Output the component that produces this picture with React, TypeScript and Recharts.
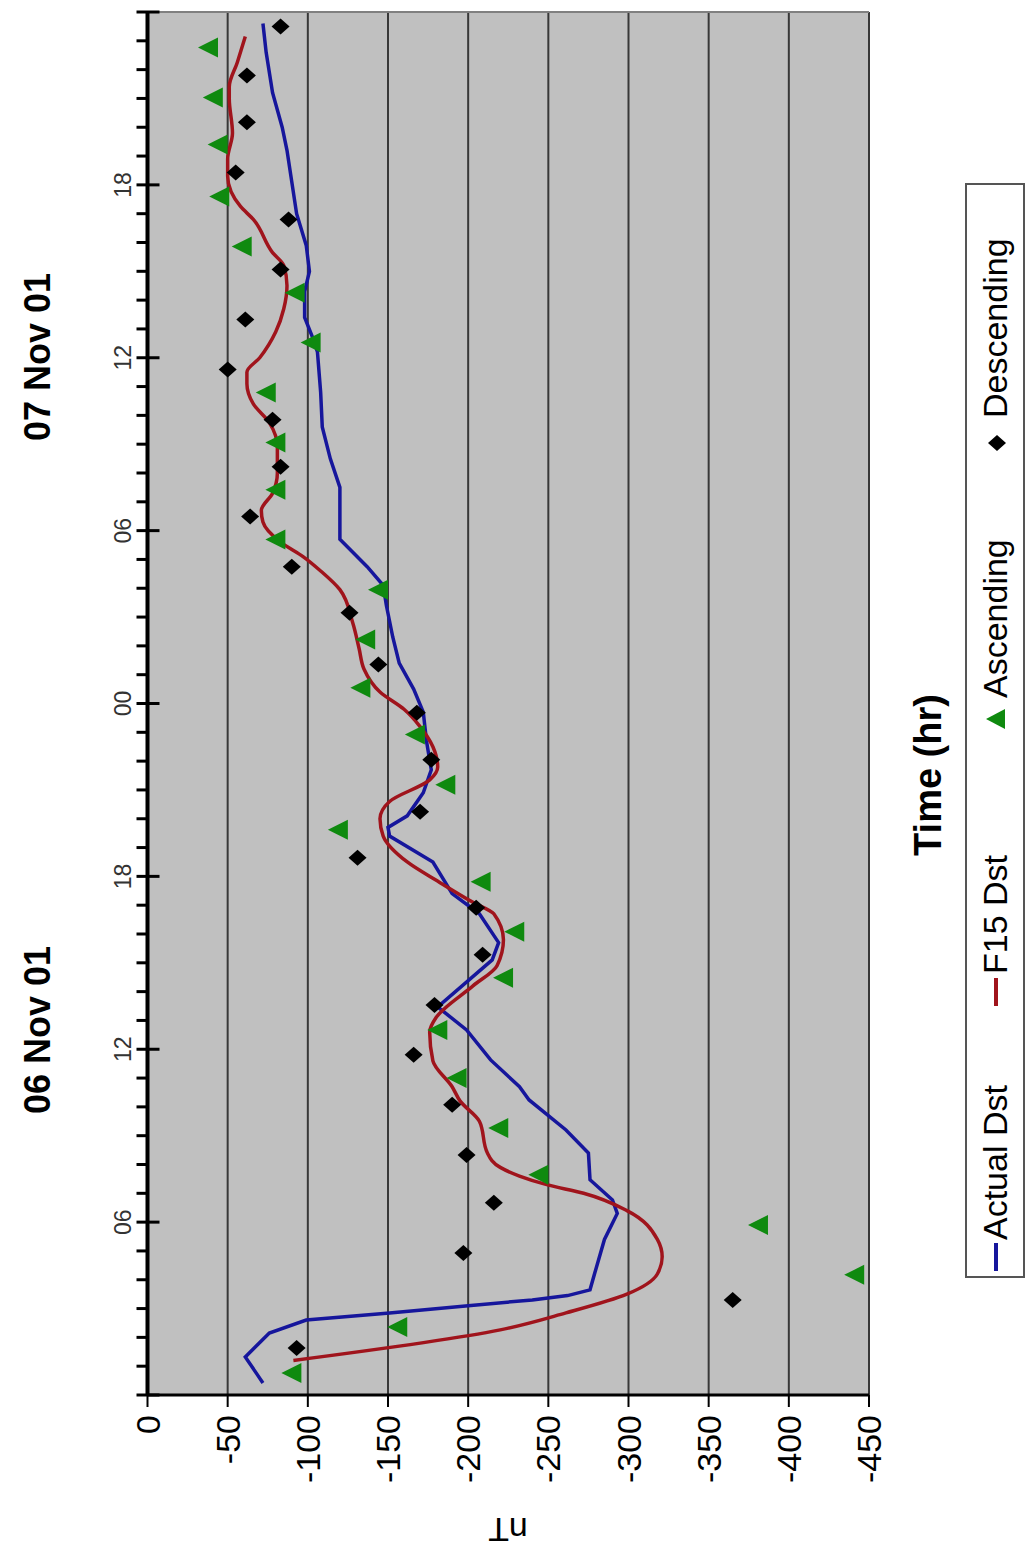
import React from 'react';
import { ComposedChart, Line, Scatter, XAxis, YAxis, CartesianGrid, ReferenceLine } from 'recharts';

// hours since 06 Nov 01 00:00, values in nT
const actualDst = [
  { t: 0.42, v: -72 }, { t: 1.32, v: -61 }, { t: 2.15, v: -76 }, { t: 2.6, v: -99 },
  { t: 2.85, v: -151 }, { t: 3.1, v: -200 }, { t: 3.3, v: -240 }, { t: 3.45, v: -262 },
  { t: 3.65, v: -276 }, { t: 4.24, v: -279 }, { t: 5.4, v: -285 }, { t: 6.3, v: -293 },
  { t: 6.77, v: -290 }, { t: 7.47, v: -276 }, { t: 8.4, v: -275 }, { t: 9.2, v: -261 },
  { t: 10.24, v: -238 }, { t: 10.7, v: -232 }, { t: 11.63, v: -214 }, { t: 12.67, v: -199 },
  { t: 13.47, v: -181 }, { t: 15.1, v: -215 }, { t: 15.7, v: -219 }, { t: 16.7, v: -207 },
  { t: 17.4, v: -190 }, { t: 18.5, v: -178 }, { t: 19.4, v: -151 }, { t: 19.7, v: -150 },
  { t: 20.1, v: -162 }, { t: 20.9, v: -172 }, { t: 21.7, v: -177 }, { t: 22.7, v: -174 },
  { t: 23.7, v: -172 }, { t: 24.5, v: -166 }, { t: 25.4, v: -157 }, { t: 26.3, v: -153 },
  { t: 27.4, v: -149 }, { t: 28.1, v: -147 }, { t: 28.75, v: -137 }, { t: 29.7, v: -120 },
  { t: 31.5, v: -120 }, { t: 32.5, v: -114 }, { t: 33.6, v: -109 }, { t: 34.8, v: -108 },
  { t: 36.2, v: -106 }, { t: 36.7, v: -103 }, { t: 37.4, v: -98 }, { t: 38.3, v: -98 },
  { t: 39.0, v: -101 }, { t: 39.9, v: -99 }, { t: 41.0, v: -93 }, { t: 43.2, v: -87 },
  { t: 44.0, v: -84 }, { t: 45.2, v: -78 }, { t: 46.6, v: -74 }, { t: 47.6, v: -72 },
];

const f15Dst = [
  { t: 1.2, v: -91 }, { t: 2.26, v: -220 }, { t: 2.85, v: -261 }, { t: 3.5, v: -299 },
  { t: 4.2, v: -318 }, { t: 4.8, v: -321 }, { t: 5.4, v: -318 }, { t: 6.4, v: -299 },
  { t: 7.0, v: -272 }, { t: 7.3, v: -249 }, { t: 7.6, v: -232 }, { t: 7.9, v: -220 },
  { t: 8.4, v: -212 }, { t: 9.5, v: -207 }, { t: 10.2, v: -195 }, { t: 10.7, v: -190 },
  { t: 11.6, v: -178 }, { t: 12.6, v: -176 }, { t: 13.1, v: -180 }, { t: 14.2, v: -203 },
  { t: 14.9, v: -218 }, { t: 15.8, v: -222 }, { t: 16.7, v: -216 }, { t: 17.1, v: -203 },
  { t: 17.8, v: -182 }, { t: 18.5, v: -162 }, { t: 19.4, v: -147 }, { t: 20.0, v: -145 },
  { t: 20.6, v: -151 }, { t: 21.35, v: -176 }, { t: 21.8, v: -181 }, { t: 22.5, v: -178 },
  { t: 23.2, v: -170 }, { t: 23.8, v: -160 }, { t: 24.4, v: -145 }, { t: 25.2, v: -135 },
  { t: 25.9, v: -132 }, { t: 26.8, v: -128 }, { t: 27.95, v: -120 }, { t: 28.6, v: -108 },
  { t: 29.1, v: -97 }, { t: 29.6, v: -83 }, { t: 30.3, v: -72 }, { t: 30.7, v: -71 },
  { t: 31.3, v: -78 }, { t: 32.0, v: -81 }, { t: 32.9, v: -81 }, { t: 33.75, v: -76 },
  { t: 34.4, v: -66 }, { t: 35.1, v: -62 }, { t: 35.5, v: -62 }, { t: 36.0, v: -70 },
  { t: 36.9, v: -80 }, { t: 37.7, v: -85 }, { t: 38.5, v: -87 }, { t: 39.2, v: -85 },
  { t: 39.65, v: -78 }, { t: 40.8, v: -66 }, { t: 41.25, v: -58 }, { t: 42.3, v: -50 },
  { t: 42.9, v: -50 }, { t: 43.8, v: -53 }, { t: 45.0, v: -51 }, { t: 45.4, v: -51 },
  { t: 46.25, v: -56 }, { t: 47.15, v: -61 },
];

const ascending = [
  { t: 0.76, v: -91 }, { t: 2.36, v: -157 }, { t: 4.17, v: -442 }, { t: 5.9, v: -382 },
  { t: 7.64, v: -245 }, { t: 9.27, v: -220 }, { t: 11.0, v: -194 }, { t: 12.67, v: -182 },
  { t: 14.48, v: -223 }, { t: 16.08, v: -230 }, { t: 17.81, v: -209 }, { t: 19.62, v: -120 },
  { t: 21.18, v: -187 }, { t: 22.92, v: -168 }, { t: 24.55, v: -134 }, { t: 26.22, v: -137 },
  { t: 27.95, v: -145 }, { t: 29.69, v: -81 }, { t: 31.42, v: -81 }, { t: 33.06, v: -81 },
  { t: 34.79, v: -75 }, { t: 36.53, v: -103 }, { t: 38.26, v: -93 }, { t: 39.86, v: -60 },
  { t: 41.6, v: -46 }, { t: 43.4, v: -45 }, { t: 45.03, v: -42 }, { t: 46.77, v: -39 },
];

const descending = [
  { t: 1.63, v: -93 }, { t: 3.3, v: -365 }, { t: 4.93, v: -197 }, { t: 6.67, v: -216 },
  { t: 8.33, v: -199 }, { t: 10.07, v: -190 }, { t: 11.81, v: -166 }, { t: 13.54, v: -179 },
  { t: 15.28, v: -209 }, { t: 16.91, v: -205 }, { t: 18.65, v: -131 }, { t: 20.24, v: -170 },
  { t: 22.05, v: -177 }, { t: 23.68, v: -168 }, { t: 25.35, v: -144 }, { t: 27.15, v: -126 },
  { t: 28.75, v: -90 }, { t: 30.49, v: -64 }, { t: 32.22, v: -83 }, { t: 33.85, v: -78 },
  { t: 35.59, v: -50 }, { t: 37.33, v: -61 }, { t: 39.06, v: -83 }, { t: 40.8, v: -88 },
  { t: 42.43, v: -55 }, { t: 44.17, v: -62 }, { t: 45.8, v: -62 }, { t: 47.5, v: -83 },
];

const hourTicks = Array.from({ length: 49 }, (_, i) => i);
const valueTicks = [0, -50, -100, -150, -200, -250, -300, -350, -400, -450];
const days = ['06 Nov 01', '07 Nov 01'];

const FONT = 'Arial, "Liberation Sans", sans-serif';
const W = 1562;
const H = 1028;
const BLUE = '#16169c';
const RED = '#a0141c';
const GREEN = '#0f8a0f';

const TimeTick = (props: any) => {
  const { x, y, payload } = props;
  const h = payload.value as number;
  const major = h % 6 === 0;
  const label = major && h > 0 && h < 48 ? String(h % 24).padStart(2, '0') : null;
  return (
    <g>
      <line x1={x} x2={x} y1={y - 11} y2={major ? y + 12 : y} stroke="#000" strokeWidth={3} />
      {label && (
        <text x={x} y={y - 25} textAnchor="middle" dominantBaseline="central" fontSize={23} fill="#333" fontFamily={FONT}>
          {label}
        </text>
      )}
    </g>
  );
};

const Triangle = (props: any) => {
  const { cx, cy } = props;
  return <polygon points={`${cx},${cy - 12} ${cx - 10},${cy + 8} ${cx + 10},${cy + 8}`} fill={GREEN} />;
};

const Diamond = (props: any) => {
  const { cx, cy } = props;
  return <polygon points={`${cx},${cy - 9} ${cx + 8},${cy} ${cx},${cy + 9} ${cx - 8},${cy}`} fill="#000" />;
};

export default function App() {
  return (
    <div style={{ position: 'absolute', left: 0, top: 0, width: 1028, height: 1562, overflow: 'hidden', background: '#fff', fontFamily: FONT }}>
      <div style={{ position: 'absolute', left: 0, top: 0, width: W, height: H, transformOrigin: '0 0', transform: `translateY(${W}px) rotate(-90deg)` }}>
        <ComposedChart width={W} height={H} margin={{ top: 107.5, right: 12, bottom: 159, left: 0 }}>
          <CartesianGrid vertical={false} stroke="#383838" strokeWidth={2} fill="#c0c0c0" />
          <XAxis
            dataKey="t"
            type="number"
            orientation="top"
            domain={[0, 48]}
            ticks={hourTicks}
            interval={0}
            height={40}
            tickSize={0}
            tickMargin={0}
            tickLine={false}
            axisLine={{ stroke: '#000', strokeWidth: 4 }}
            tick={<TimeTick />}
          />
          <YAxis
            type="number"
            domain={[-450, 0]}
            ticks={valueTicks}
            interval={0}
            width={167}
            tickSize={12}
            tickMargin={8}
            tickLine={{ stroke: '#000', strokeWidth: 2 }}
            axisLine={{ stroke: '#000', strokeWidth: 3 }}
            tick={{ fontSize: 34, fill: '#000', fontFamily: FONT }}
          />
          <ReferenceLine x={48} stroke="#808080" strokeWidth={2} />
          <Line data={actualDst} dataKey="v" type="linear" stroke={BLUE} strokeWidth={3.5} dot={false} isAnimationActive={false} />
          <Line data={f15Dst} dataKey="v" type="monotone" stroke={RED} strokeWidth={3.5} dot={false} isAnimationActive={false} />
          <Scatter data={ascending} dataKey="v" shape={<Triangle />} isAnimationActive={false} />
          <Scatter data={descending} dataKey="v" shape={<Diamond />} isAnimationActive={false} />
        </ComposedChart>

        {days.map((d, i) => (
          <div key={d} style={{ position: 'absolute', left: (i === 0 ? 532 : 1205) - 150, top: 17, width: 300, textAlign: 'center', fontSize: 36, fontWeight: 'bold', lineHeight: '42px' }}>
            {d}
          </div>
        ))}

        <div style={{ position: 'absolute', left: -18, top: 488, width: 100, height: 40, lineHeight: '40px', textAlign: 'center', fontSize: 34, transform: 'rotate(-90deg)' }}>
          nT
        </div>

        <div style={{ position: 'absolute', left: 587, top: 906, width: 400, textAlign: 'center', fontSize: 38, fontWeight: 'bold', lineHeight: '44px' }}>
          Time (hr)
        </div>

        <div style={{ position: 'absolute', left: 284, top: 965, width: 1095, height: 60, border: '2px solid #555', boxSizing: 'border-box', background: '#fff', fontSize: 34 }}>
          <div style={{ position: 'absolute', left: 5, top: 27, width: 28, height: 4, background: BLUE }} />
          <div style={{ position: 'absolute', left: 36, top: 6, lineHeight: '44px' }}>Actual Dst</div>
          <div style={{ position: 'absolute', left: 270, top: 27, width: 28, height: 4, background: RED }} />
          <div style={{ position: 'absolute', left: 302, top: 6, lineHeight: '44px' }}>F15 Dst</div>
          <svg style={{ position: 'absolute', left: 546, top: 18 }} width={22} height={22}>
            <polygon points="11,1 1,20 21,20" fill={GREEN} />
          </svg>
          <div style={{ position: 'absolute', left: 578, top: 6, lineHeight: '44px' }}>Ascending</div>
          <svg style={{ position: 'absolute', left: 824, top: 20 }} width={18} height={20}>
            <polygon points="9,1 17,10 9,19 1,10" fill="#000" />
          </svg>
          <div style={{ position: 'absolute', left: 858, top: 6, lineHeight: '44px' }}>Descending</div>
        </div>
      </div>
    </div>
  );
}
